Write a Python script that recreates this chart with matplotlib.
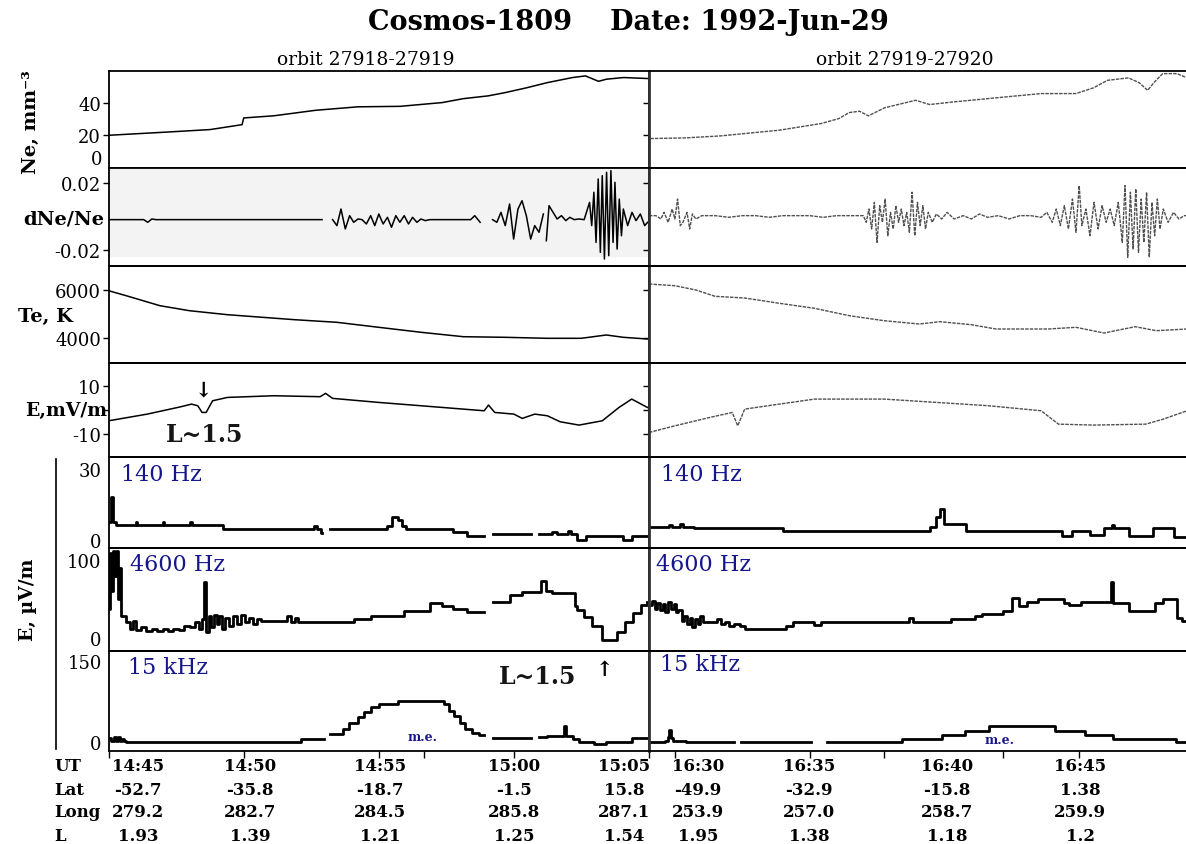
import numpy as np
import matplotlib
matplotlib.use('Agg')
import matplotlib.pyplot as plt
import matplotlib.transforms as mtransforms
from matplotlib.lines import Line2D

nan = np.nan

# time is in minutes after the hour: left orbit 14:xx, right orbit 16:xx
ne_left = [(45.0, 20.0), (47.2, 22.0), (48.76, 23.5), (49.94, 26.5), (50.0, 30.6), (51.11, 31.9),
           (52.67, 35.3), (54.23, 37.4), (55.79, 37.7), (57.35, 40.0), (58.13, 42.4), (59.05, 44.1),
           (59.68, 46.1), (60.46, 49.0), (61.24, 52.2), (62.17, 55.3), (62.65, 56.3), (63.13, 53.0),
           (63.43, 54.3), (64.06, 55.3), (64.95, 54.7)]
ne_right = [(29.09, 18.0), (30.38, 18.4), (31.68, 19.6), (33.87, 23.1), (35.43, 27.2), (36.08, 30.2),
            (36.47, 33.9), (36.85, 34.7), (37.18, 31.9), (37.78, 36.8), (38.93, 41.4), (39.45, 38.8),
            (40.34, 40.4), (42.3, 43.5), (43.58, 45.5), (44.88, 45.5), (45.53, 49.0), (46.05, 53.6),
            (46.83, 55.1), (47.22, 52.2), (47.54, 47.5), (47.8, 52.7), (48.1, 57.7), (48.63, 57.7),
            (49.0, 55.1)]

dne_left = [(45.0, -0.0019), (46.3, -0.0019), (46.45, -0.0035), (46.6, -0.0015), (46.75, -0.0019),
            (52.9, -0.0019), (53.05, nan),
            (53.29, -0.0019), (53.45, -0.0055), (53.6, 0.0045), (53.76, -0.0075), (53.92, 0.0005),
            (54.07, -0.0035), (54.23, -0.0015), (54.38, -0.0019), (54.54, -0.0045), (54.7, 0.0005),
            (54.85, -0.0055), (55.0, 0.0015), (55.16, -0.0045), (55.32, -0.0005), (55.47, -0.0065),
            (55.63, 0.0005), (55.78, -0.0035), (55.94, 0.0005), (56.1, -0.0045), (56.25, -0.0005),
            (56.41, -0.0035), (56.56, -0.0015), (56.72, -0.0025), (56.88, -0.0019), (58.4, -0.0019),
            (58.55, 0.0005), (58.75, -0.0035), (58.9, nan),
            (59.21, -0.0019), (59.37, -0.0035), (59.52, 0.0025), (59.68, -0.0055), (59.84, 0.0075),
            (59.99, -0.0136), (60.15, 0.0045), (60.3, 0.0095), (60.46, 0.0005), (60.62, -0.0136),
            (60.77, -0.0055), (60.93, -0.0095), (61.09, 0.0015), (61.15, nan),
            (61.2, -0.0146), (61.3, 0.0065), (61.45, 0.0025), (61.6, -0.0015), (61.76, 0.0005),
            (61.92, -0.0025), (62.07, -0.0005), (62.23, -0.0019), (62.4, -0.0015), (62.6, -0.0019),
            (62.8, 0.0085), (62.88, -0.0055), (62.96, 0.0146), (63.04, -0.0156), (63.12, 0.0226),
            (63.2, -0.0216), (63.27, 0.0246), (63.35, -0.0256), (63.43, 0.0266), (63.51, -0.0236),
            (63.59, 0.0276), (63.67, -0.0156), (63.74, 0.0206), (63.82, -0.0196), (63.9, 0.0105),
            (63.98, -0.0116), (64.05, 0.0045), (64.21, -0.0055), (64.37, 0.0025), (64.52, -0.0025),
            (64.68, 0.0015), (64.84, -0.0055), (64.95, -0.0035)]
dne_right = [(29.04, 0.0005), (29.3, 0.0005), (29.48, -0.0015), (29.6, 0.0025), (29.75, -0.0035),
             (29.9, 0.0045), (30.0, -0.0015), (30.1, 0.0105), (30.2, -0.0055), (30.3, -0.0035),
             (30.45, 0.0025), (30.55, -0.0075), (30.65, 0.0015), (30.78, -0.0015), (31.0, 0.0005),
             (31.5, 0.0005), (32.0, -0.0005), (32.5, 0.0005), (33.0, 0.0005), (33.5, -0.0005),
             (34.0, 0.0005), (35.0, 0.0005), (35.5, -0.0005), (36.0, 0.0005), (36.99, 0.0005),
             (37.1, -0.0035), (37.2, 0.0045), (37.3, -0.0075), (37.4, 0.0085), (37.5, -0.0156),
             (37.6, 0.0065), (37.7, -0.0035), (37.8, 0.0105), (37.9, -0.0116), (38.0, 0.0025),
             (38.1, -0.0075), (38.2, 0.0065), (38.3, -0.0035), (38.4, 0.0045), (38.5, -0.0055),
             (38.6, 0.0025), (38.7, -0.0095), (38.8, 0.0146), (38.9, -0.0116), (39.0, 0.0085),
             (39.1, -0.0055), (39.2, 0.0065), (39.3, -0.0075), (39.4, 0.0025), (39.55, -0.0035),
             (39.7, 0.0015), (39.9, -0.0015), (40.1, 0.0025), (40.36, -0.0015), (40.7, 0.0005),
             (41.0, -0.0015), (41.3, 0.0015), (41.6, -0.0005), (42.0, 0.0005), (42.4, -0.0015),
             (42.8, 0.0005), (43.2, 0.0005), (43.59, -0.0005), (43.8, 0.0025), (44.0, -0.0035),
             (44.15, 0.0045), (44.3, -0.0055), (44.45, 0.0065), (44.6, -0.0075), (44.75, 0.0105),
             (44.88, -0.0095), (45.0, 0.0186), (45.1, -0.0055), (45.25, 0.0045), (45.4, -0.0116),
             (45.55, 0.0085), (45.7, -0.0075), (45.85, 0.0065), (46.0, -0.0035), (46.15, 0.0045),
             (46.3, -0.0055), (46.45, 0.0085), (46.6, -0.0156), (46.7, 0.0186), (46.8, -0.0246),
             (46.9, 0.0146), (47.0, -0.0196), (47.1, 0.0166), (47.2, -0.0216), (47.3, 0.0105),
             (47.4, -0.0156), (47.5, 0.0146), (47.6, -0.0246), (47.7, 0.0085), (47.8, -0.0116),
             (47.9, 0.0105), (48.0, -0.0075), (48.12, 0.0045), (48.3, -0.0035), (48.5, 0.0025),
             (48.7, -0.0015), (48.9, 0.0005), (49.0, 0.0005)]

te_left = [(45.0, 5971), (45.65, 5764), (46.9, 5350), (47.99, 5143), (49.4, 4977), (51.89, 4770),
           (53.45, 4662), (55.0, 4455), (56.57, 4248), (58.13, 4066), (59.68, 4041), (61.24, 4000),
           (62.49, 4000), (63.42, 4137), (64.05, 4041), (64.94, 3971)]
te_right = [(29.04, 6248), (30.0, 6178), (30.78, 6000), (31.49, 5739), (32.59, 5668), (33.88, 5449),
            (35.18, 5242), (36.47, 4936), (37.76, 4729), (39.06, 4592), (39.84, 4687), (41.0, 4563),
            (41.91, 4385), (43.85, 4385), (44.88, 4455), (45.92, 4219), (47.08, 4480), (47.86, 4315),
            (49.0, 4385)]

e_left = [(45.0, -4.4), (46.43, -1.6), (47.68, 1.5), (48.07, 2.6), (48.3, 1.9), (48.46, -0.9),
          (48.61, -0.9), (48.85, 4.0), (49.4, 5.4), (51.11, 6.1), (52.83, 5.7), (53.03, 7.1),
          (53.29, 5.0), (55.0, 3.3), (57.35, 1.2), (58.9, -0.2), (59.06, 2.2), (59.29, -0.9),
          (60.0, -1.6), (60.31, -3.4), (60.77, -1.6), (61.24, -2.3), (61.71, -4.8), (62.41, -6.2),
          (63.27, -4.4), (63.89, 1.2), (64.36, 4.7), (64.94, 1.2)]
e_right = [(29.04, -9.3), (30.0, -6.5), (31.29, -3.0), (32.13, -0.9), (32.33, -6.5), (32.59, 0.5),
           (33.88, 2.6), (35.18, 4.7), (37.76, 4.7), (39.71, 3.3), (41.65, 1.9), (43.59, -0.2),
           (44.23, -5.8), (45.53, -6.2), (47.47, -5.8), (48.12, -3.7), (49.0, -0.2)]

f140_left = [(45.0, 7.5), (45.1, 18.0), (45.15, 7.5), (45.26, 6.3), (46.0, 7.5), (46.05, 6.3),
             (47.0, 7.5), (47.05, 6.3), (48.0, 7.5), (48.1, 6.3), (49.24, 4.6), (52.6, 6.0),
             (52.7, 4.6), (52.85, 3.0), (52.9, nan), (53.21, 4.6), (55.32, 6.0), (55.5, 9.6),
             (55.7, 8.5), (55.85, 6.0), (56.0, 4.8), (57.74, 3.2), (58.28, 1.6), (58.9, nan),
             (59.22, 2.5), (60.62, nan), (60.93, 2.5), (61.4, 3.5), (61.6, 2.5), (62.0, 4.0),
             (62.1, 2.5), (62.33, 0.1), (62.65, 1.6), (64.05, 0.1), (64.36, 1.6), (64.94, 1.6)]
f140_right = [(29.04, 5.4), (29.8, 6.5), (29.9, 5.4), (30.19, 6.8), (30.3, 5.4), (30.71, 5.1),
              (34.0, 3.9), (39.45, 5.5), (39.7, 9.5), (39.84, 13.1), (39.97, 6.8), (40.81, 3.9),
              (44.36, 1.8), (44.75, 3.9), (45.4, 2.2), (45.92, 5.1), (46.2, 6.5), (46.3, 5.1),
              (46.83, 1.8), (47.73, 5.1), (48.51, 1.4), (49.0, 1.4)]

f4600_left = [(45.0, 38), (45.05, 110), (45.1, 60), (45.15, 112), (45.2, 80), (45.27, 112), (45.33, 50),
              (45.4, 90), (45.45, 28), (45.65, 20), (45.8, 12), (45.9, 22), (46.0, 10), (46.2, 14),
              (46.4, 9), (46.6, 12), (46.8, 9), (47.0, 11), (47.2, 9), (47.4, 12), (47.6, 10),
              (47.8, 16), (48.0, 14), (48.2, 20), (48.35, 12), (48.46, 25), (48.54, 72), (48.6, 8),
              (48.7, 28), (48.8, 14), (48.9, 30), (49.0, 18), (49.1, 28), (49.2, 12), (49.3, 26),
              (49.45, 16), (49.6, 28), (49.75, 18), (49.9, 30), (50.05, 20), (50.2, 26), (50.35, 18),
              (50.5, 24), (50.65, 22), (51.4, 22), (51.6, 28), (51.75, 20), (51.9, 26), (52.0, 20),
              (54.07, 24), (54.7, 28.8), (55.94, 35), (56.88, 45), (57.35, 41), (57.74, 38),
              (58.28, 33.5), (58.9, nan), (59.22, 47), (59.84, 56), (60.31, 59), (61.01, 73),
              (61.17, 61), (61.4, 58), (62.26, 41), (62.33, 36), (62.6, 27), (62.9, 15), (63.27, -3),
              (63.5, -2), (63.8, 8), (64.1, 20), (64.4, 32), (64.7, 42), (64.94, 46)]
f4600_right = [(29.04, 42), (29.15, 48), (29.25, 38), (29.35, 45), (29.45, 36), (29.55, 44), (29.65, 34),
               (29.75, 46), (29.85, 38), (29.95, 44), (30.05, 33), (30.13, 36), (30.25, 22), (30.35, 28),
               (30.45, 18), (30.55, 26), (30.65, 14), (30.75, 24), (30.85, 18), (30.95, 28), (31.05, 20),
               (31.2, 21), (31.4, 20), (31.55, 24), (31.7, 18), (31.85, 20), (32.0, 16), (32.2, 18),
               (32.4, 15), (32.59, 11.6), (34.14, 16), (34.4, 21), (35.0, 21), (35.18, 17), (35.43, 21),
               (38.67, 26), (38.85, 21), (40.23, 25), (41.13, 28), (41.39, 31), (42.17, 35), (42.5, 52),
               (42.75, 41.7), (43.07, 47), (43.46, 50), (44.43, 45), (44.63, 42.5), (45.08, 47),
               (46.19, 72), (46.25, 45), (46.83, 35), (47.8, 45), (48.12, 50), (48.51, 50), (48.64, 26),
               (48.8, 22), (49.0, 22)]

f15k_left = [(45.0, 8), (45.08, 2), (45.19, 10), (45.26, 3), (45.34, 9), (45.42, 2), (45.5, 7), (45.58, 3),
             (45.65, 1), (45.96, 0.5), (52.12, 6.9), (52.98, nan), (53.21, 15.3), (53.68, 24), (53.9, 35),
             (54.23, 46), (54.45, 55), (54.7, 65), (55.0, 70), (55.71, 76.5), (57.42, 70), (57.6, 58),
             (57.8, 48), (58.0, 36), (58.2, 25), (58.45, 17), (58.7, 13), (58.9, nan), (59.22, 7.6),
             (60.62, nan), (60.93, 10), (61.24, 12), (61.86, 30), (61.92, 12), (62.18, 7), (62.41, 0.5),
             (62.96, -4), (63.42, 0.5), (64.36, 8), (64.94, 8)]
f15k_right = [(29.04, 0), (29.62, 3), (29.74, 10), (29.8, 23), (29.87, 8), (29.93, 2), (30.4, 0),
              (32.2, nan), (32.46, 0), (35.05, nan), (35.64, 0), (38.42, 6.7), (39.91, 12.8),
              (40.75, 21.4), (41.65, 29.3), (44.11, 21.4), (45.21, 14), (46.25, 6.7), (48.58, 0),
              (49.0, 0)]

orbit_names = ['orbit 27918-27919', 'orbit 27919-27920']
freq_names = ['140 Hz', '4600 Hz', '15 kHz']
table_rows = ['UT', 'Lat', 'Long', 'L']
table_left = [['14:45', '14:50', '14:55', '15:00', '15:05'],
              ['-52.7', '-35.8', '-18.7', '-1.5', '15.8'],
              ['279.2', '282.7', '284.5', '285.8', '287.1'],
              ['1.93', '1.39', '1.21', '1.25', '1.54']]
table_right = [['16:30', '16:35', '16:40', '16:45'],
               ['-49.9', '-32.9', '-15.8', '1.38'],
               ['253.9', '257.0', '258.7', '259.9'],
               ['1.95', '1.38', '1.18', '1.2']]

# ---- layout (pixels of the 1186x845 picture) ----
W, H = 1186, 845
plt.rcParams['font.family'] = ['DejaVu Serif', 'DejaVu Sans']
fig = plt.figure(figsize=(W / 100, H / 100), dpi=100)

def px_axes(x0, y0, x1, y1):
    return fig.add_axes([x0 / W, 1 - y1 / H, (x1 - x0) / W, (y1 - y0) / H])

def fig_text(x, y, s, **kw):
    fig.text(x / W, 1 - y / H, s, **kw)

row_edges = [72, 169, 267.3, 364.3, 458.3, 549.3, 651.7, 751.7]
col_edges = {'left': (108.6, 649), 'right': (649, 1187)}
col_xlim = {'left': (45, 65), 'right': (29.04, 49)}
col_xticks = {'left': [45, 50, 55, 56.69, 60, 65], 'right': [30, 35, 37.76, 42.16, 45]}

rows = [
    dict(data=(ne_left, ne_right), ylim=(0, 59.3), ticks=[20, 40], labels=['20', '40'], kind='upper'),
    dict(data=(dne_left, dne_right), ylim=(-0.030, 0.0292), ticks=[-0.02, 0.02],
         labels=['-0.02', '0.02'], kind='upper'),
    dict(data=(te_left, te_right), ylim=(2965, 6981), ticks=[4000, 6000], labels=['4000', '6000'],
         kind='upper'),
    dict(data=(e_left, e_right), ylim=(-19.7, 19.7), ticks=[-10, 0, 10], labels=['-10', '', '10'],
         kind='upper'),
    dict(data=(f140_left, f140_right), ylim=(-3.5, 34.9), ticks=[0, 30], labels=['0', '30'], kind='lower'),
    dict(data=(f4600_left, f4600_right), ylim=(-16.4, 115.7), ticks=[0, 100], labels=['0', '100'],
         kind='lower'),
    dict(data=(f15k_left, f15k_right), ylim=(-15.4, 168.4), ticks=[0, 150], labels=['0', '150'],
         kind='lower'),
]

axes = {}
for i, row in enumerate(rows):
    for j, side in enumerate(('left', 'right')):
        x0, x1 = col_edges[side]
        ax = px_axes(x0, row_edges[i], x1, row_edges[i + 1])
        axes[(i, side)] = ax
        ax.set_xlim(col_xlim[side])
        ax.set_ylim(row['ylim'])
        ax.patch.set_alpha(0)
        pts = np.array(row['data'][j], dtype=float)

        if row['kind'] == 'upper':
            if side == 'left':
                ax.plot(pts[:, 0], pts[:, 1], color='black', lw=1.1)
            else:
                ax.plot(pts[:, 0], pts[:, 1], color='#505050', lw=1.0, ls=(0, (2.5, 0.8)))
            ax.tick_params(axis='y', direction='out', length=4, width=1, pad=1.5,
                           labelsize=13, left=True, right=(side == 'right'))
        else:
            ax.plot(pts[:, 0], pts[:, 1], color='black', lw=2.0, drawstyle='steps-post')
            ax.tick_params(axis='y', length=0, pad=5, labelsize=13)

        ax.set_yticks(row['ticks'])
        ax.set_yticklabels(row['labels'] if side == 'left' else [])

        if i == len(rows) - 1:
            ax.set_xticks(col_xticks[side])
            ax.tick_params(axis='x', direction='out', length=5, width=1, labelbottom=False)
        else:
            ax.set_xticks([])

        for sp in ax.spines.values():
            sp.set_linewidth(1.3)
        if side == 'right':
            ax.spines['left'].set_color('#333333')
            ax.spines['left'].set_linewidth(2.0)

# light grey band behind dNe/Ne of the first orbit
axes[(1, 'left')].axhspan(-0.0236, 0.04, color='#f3f3f3', zorder=0)
# the zero of Ne sits just above the frame
ax = axes[(0, 'left')]
ax.text(-0.012, 0, '0', transform=mtransforms.blended_transform_factory(ax.transAxes, ax.transData),
        ha='right', va='bottom', fontsize=13)

# ---- titles and labels ----
fig_text(628, 22, 'Cosmos-1809    Date: 1992-Jun-29', ha='center', va='center',
         fontsize=19.5, fontweight='bold')
fig_text(366, 60, orbit_names[0], ha='center', va='center', fontsize=13.5)
fig_text(905, 60, orbit_names[1], ha='center', va='center', fontsize=13.5)

fig_text(31, 122, 'Ne, mm⁻³', rotation=90, ha='center', va='center', fontsize=14, fontweight='bold')
fig_text(104, 219, 'dNe/Ne', ha='right', va='center', fontsize=14, fontweight='bold')
fig_text(46, 317, 'Te, K', ha='center', va='center', fontsize=14, fontweight='bold')
fig_text(107, 411, 'E,mV/m', ha='right', va='center', fontsize=13.5, fontweight='bold')
fig_text(28, 600, 'E, µV/m', rotation=90, ha='center', va='center', fontsize=13.5, fontweight='bold')
fig.add_artist(Line2D([56 / W, 56 / W], [1 - 460 / H, 1 - 750 / H], color='black', lw=1.2))

navy = '#15158c'
freq_pos = {'left': [(121, 475), (130, 565), (128, 668)], 'right': [(661, 475), (656, 565), (660, 665)]}
for side in ('left', 'right'):
    for name, (x, y) in zip(freq_names, freq_pos[side]):
        fig_text(x, y, name, ha='left', va='center', fontsize=16, color=navy)
fig_text(423, 738, 'm.e.', ha='center', va='center', fontsize=9, fontweight='bold', color=navy)
fig_text(1000, 741, 'm.e.', ha='center', va='center', fontsize=9, fontweight='bold', color=navy)

# L~1.5 markers
fig_text(203, 391, '↓', ha='center', va='center', fontsize=15, fontweight='bold')
fig_text(205, 435, 'L~1.5', ha='center', va='center', fontsize=17, fontweight='bold', color='#151515')
fig_text(538, 677, 'L~1.5', ha='center', va='center', fontsize=17, fontweight='bold', color='#151515')
fig_text(604, 670, '↑', ha='center', va='center', fontsize=15, fontweight='bold')

# ---- orbit table under the panels ----
row_y = [767, 791, 813, 837]
left_x = [138, 250, 380, 514, 624]
right_x = [698, 809, 947, 1080]
for name, y, lvals, rvals in zip(table_rows, row_y, table_left, table_right):
    fig_text(54, y, name, ha='left', va='center', fontsize=12, fontweight='bold')
    for x, s in zip(left_x, lvals):
        fig_text(x, y, s, ha='center', va='center', fontsize=12, fontweight='bold')
    for x, s in zip(right_x, rvals):
        fig_text(x, y, s, ha='center', va='center', fontsize=12, fontweight='bold')

fig.savefig('out.png', dpi=100)
